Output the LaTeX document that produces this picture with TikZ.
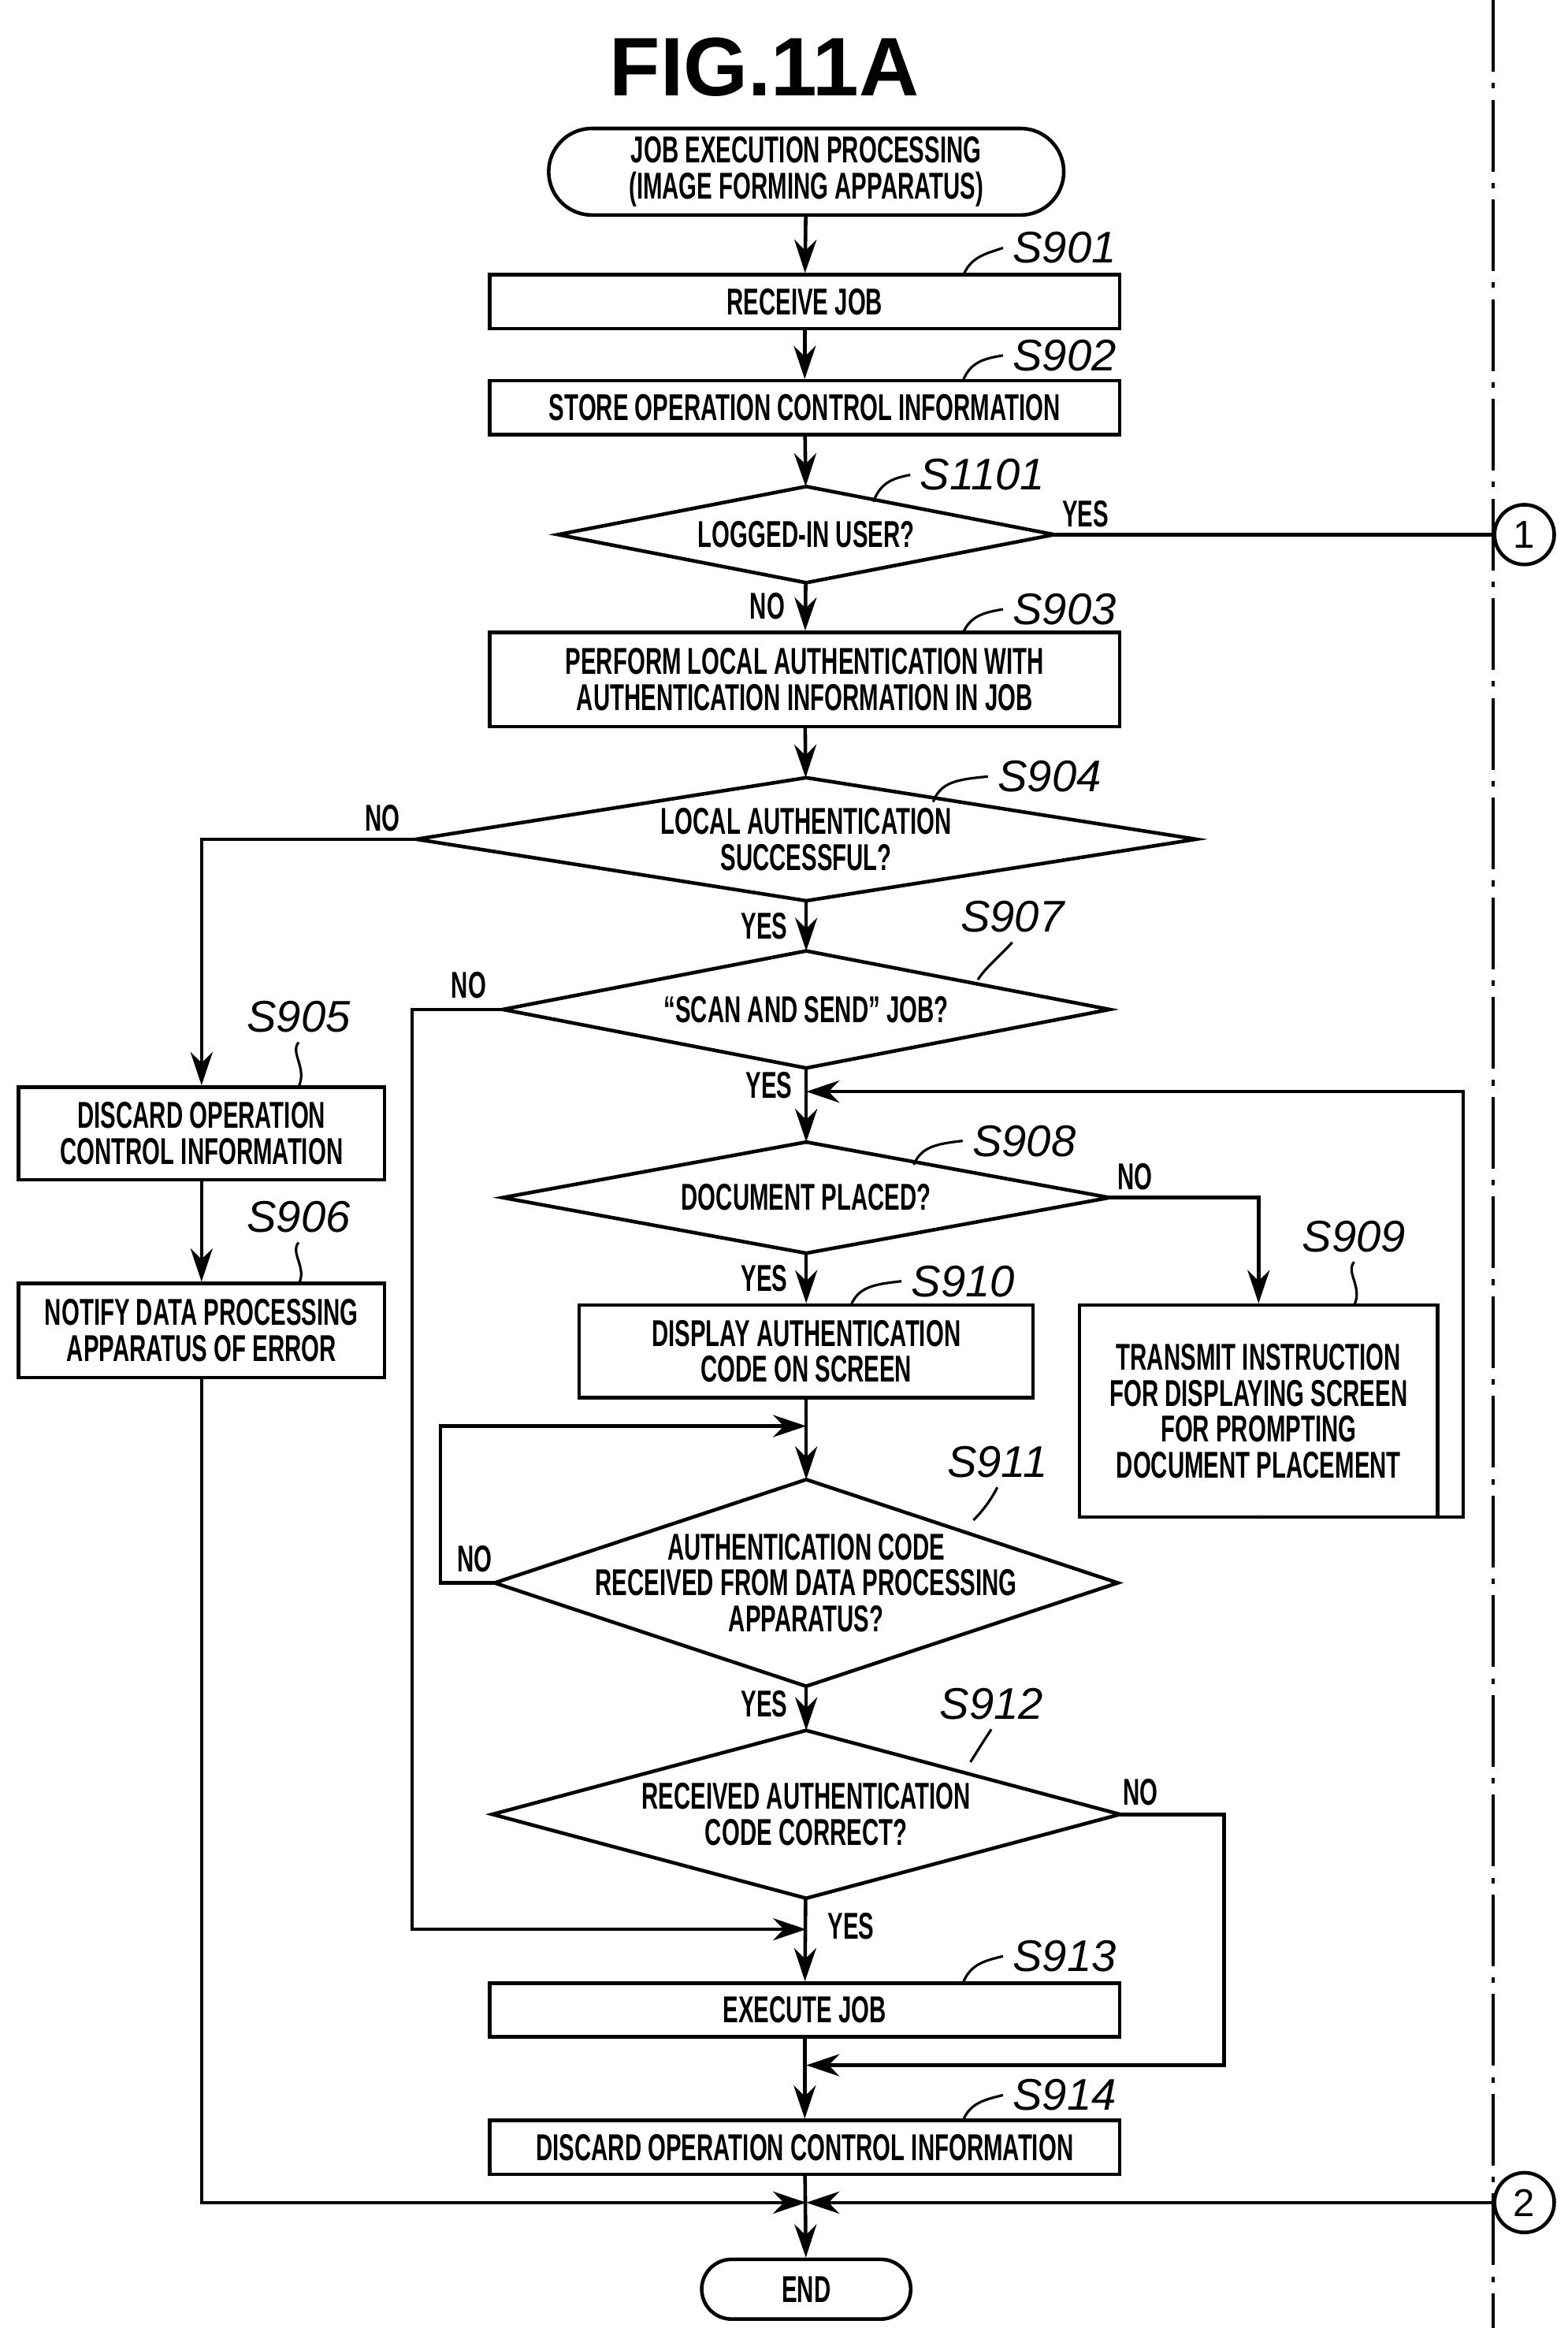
\documentclass[tikz,border=0pt]{standalone}
\usepackage{fontspec}
\setmainfont{Liberation Sans}[FakeStretch=0.62]
\newfontfamily\titlefont{Liberation Sans}
\usetikzlibrary{shapes.geometric,shapes.misc,arrows.meta,positioning}
\newcommand\px{0.01895cm}
\tikzset{
  base/.style={draw, line width=1.3pt, align=center, inner sep=0pt,
    font=\bfseries\fontsize{13.5}{13}\selectfont},
  box/.style={base, rectangle, minimum width=422*\px, minimum height=36*\px},
  term/.style={base, rounded rectangle, minimum height=58*\px},
  dec/.style={base, rectangle, draw=none},
  conn/.style={base, circle, minimum size=40*\px, font=\titlefont\fontsize{14}{14}\selectfont},
  stepno/.style={font=\titlefont\itshape\fontsize{16}{16}\selectfont},
  lbl/.style={font=\bfseries\fontsize{13.5}{13}\selectfont},
  line/.style={line width=1.3pt},
  arr/.style={line, -{Stealth[length=12pt,width=8pt]}},
  lead/.style={line width=0.9pt},
}
\begin{document}
\begin{tikzpicture}[x=\px, y=-\px]
\useasboundingbox (0,0) rectangle (1050,1559);
\node[font=\titlefont\bfseries\fontsize{30}{30}\selectfont] (title) at (512,45) {FIG.11A};
\draw[line width=1pt, dash pattern=on 26pt off 4pt on 2pt off 4pt] (1000,0) -- (1000,1559);

% main column
\node[term, minimum width=345*\px] (start) at (540,115) {JOB EXECUTION PROCESSING\\(IMAGE FORMING APPARATUS)};
\node[box] (s901) at (539,202) {RECEIVE JOB};
\node[box] (s902) at (539,273) {STORE OPERATION CONTROL INFORMATION};
\node[dec, minimum width=330*\px, minimum height=62*\px] (s1101) at (540,358) {LOGGED-IN USER?};
\node[box, minimum height=63*\px] (s903) at (539,455) {PERFORM LOCAL AUTHENTICATION WITH\\AUTHENTICATION INFORMATION IN JOB};
\node[dec, minimum width=520*\px, minimum height=80*\px] (s904) at (540,562) {LOCAL AUTHENTICATION\\SUCCESSFUL?};
\node[dec, minimum width=404*\px, minimum height=76*\px] (s907) at (540,676) {``SCAN AND SEND'' JOB?};
\node[dec, minimum width=404*\px, minimum height=72*\px] (s908) at (540,802) {DOCUMENT PLACED?};
\node[box, minimum width=304*\px, minimum height=62*\px] (s910) at (540,905) {DISPLAY AUTHENTICATION\\CODE ON SCREEN};
\node[dec, minimum width=415*\px, minimum height=136*\px] (s911) at (540,1060) {AUTHENTICATION CODE\\RECEIVED FROM DATA PROCESSING\\APPARATUS?};
\node[dec, minimum width=418*\px, minimum height=110*\px] (s912) at (540,1215) {RECEIVED AUTHENTICATION\\CODE CORRECT?};
\node[box] (s913) at (539,1346) {EXECUTE JOB};
\node[box] (s914) at (539,1438) {DISCARD OPERATION CONTROL INFORMATION};
\node[term, minimum width=140*\px, minimum height=40*\px] (end) at (540,1533) {END};
\foreach \n in {s1101,s904,s907,s908,s911,s912}
  \draw[line] (\n.north) -- (\n.east) -- (\n.south) -- (\n.west) -- cycle;

% side boxes
\node[box, minimum width=245*\px, minimum height=62*\px] (s905) at (135,759) {DISCARD OPERATION\\CONTROL INFORMATION};
\node[box, minimum width=245*\px, minimum height=63*\px] (s906) at (135,891) {NOTIFY DATA PROCESSING\\APPARATUS OF ERROR};
\node[box, minimum width=240*\px, minimum height=142*\px] (s909) at (843,945) {TRANSMIT INSTRUCTION\\FOR DISPLAYING SCREEN\\FOR PROMPTING\\DOCUMENT PLACEMENT};
\node[conn] (c1) at (1021,358) {1};
\node[conn] (c2) at (1021,1475) {2};

% merge points
\coordinate (m1) at (540,731);
\coordinate (m2) at (540,955);
\coordinate (m3) at (540,1383);
\coordinate (m4) at (540,1475);
\coordinate (m5) at (540,1292);

% connectors
\draw[arr] (start) -- (s901);
\draw[arr] (s901) -- (s902);
\draw[arr] (s902) -- (s1101);
\draw[arr] (s1101) -- (s903);
\draw[arr] (s903) -- (s904);
\draw[arr] (s904) -- (s907);
\draw[arr] (s907) -- (s908);
\draw[arr] (s908) -- (s910);
\draw[arr] (s910) -- (s911);
\draw[arr] (s911) -- (s912);
\draw[arr] (s912) -- (s913);
\draw[arr] (s913) -- (s914);
\draw[arr] (s914) -- (end);
\draw[arr] (s905) -- (s906);
\draw[line] (s1101.east) -- (c1);
\draw[arr] (s904.west) -| (s905.north);
\draw[arr] (s907.west) -- (276,676) |- (m5);
\draw[arr] (s908.east) -| (s909.north);
\draw[arr] (s909.south) -- (843,1016) -- (980,1016) |- (m1);
\draw[arr] (s911.west) -- (295,1060) |- (m2);
\draw[arr] (s912.east) -- (820,1215) |- (m3);
\draw[arr] (s906.south) |- (m4);
\draw[arr] (c2) -- (m4);

% branch labels
\node[lbl] (y1101) at (727,344) {YES};
\node[lbl] (n1101) at (514,406) {NO};
\node[lbl] (n904) at (256,548) {NO};
\node[lbl] (y904) at (512,620) {YES};
\node[lbl] (n907) at (314,660) {NO};
\node[lbl] (y907) at (515,727) {YES};
\node[lbl] (n908) at (760,788) {NO};
\node[lbl] (y908) at (512,856) {YES};
\node[lbl] (n911) at (318,1044) {NO};
\node[lbl] (y911) at (512,1141) {YES};
\node[lbl] (n912) at (764,1200) {NO};
\node[lbl] (y912) at (570,1290) {YES};

% step labels
\node[stepno] (l901) at (713,166) {S901};
\node[stepno] (l902) at (713,238) {S902};
\node[stepno] (l1101) at (658,318) {S1101};
\node[stepno] (l903) at (713,408) {S903};
\node[stepno] (l904) at (703,520) {S904};
\node[stepno] (l907) at (678,614) {S907};
\node[stepno] (l905) at (200,681) {S905};
\node[stepno] (l906) at (200,815) {S906};
\node[stepno] (l908) at (686,764) {S908};
\node[stepno] (l909) at (907,828) {S909};
\node[stepno] (l910) at (645,858) {S910};
\node[stepno] (l911) at (668,979) {S911};
\node[stepno] (l912) at (664,1141) {S912};
\node[stepno] (l913) at (713,1310) {S913};
\node[stepno] (l914) at (713,1403) {S914};

% leaders
\draw[lead] (645,185) .. controls (650,172) and (660,170) .. (l901.west);
\draw[lead] (645,255) .. controls (650,242) and (660,240) .. (l902.west);
\draw[lead] (585,336) .. controls (590,322) and (600,320) .. (l1101.west);
\draw[lead] (645,424) .. controls (650,412) and (660,410) .. (l903.west);
\draw[lead] (625,537) .. controls (630,524) and (640,522) .. (l904.west);
\draw[lead] (l907.south) .. controls (670,640) and (660,648) .. (655,656);
\draw[lead] (l905.south) .. controls (194,705) and (206,715) .. (200,728);
\draw[lead] (l906.south) .. controls (194,839) and (206,849) .. (200,860);
\draw[lead] (612,780) .. controls (617,768) and (627,766) .. (l908.west);
\draw[lead] (l909.south) .. controls (901,852) and (913,862) .. (907,874);
\draw[lead] (570,874) .. controls (575,862) and (585,860) .. (l910.west);
\draw[lead] (l911.south) .. controls (665,1002) and (660,1010) .. (652,1018);
\draw[lead] (l912.south) .. controls (660,1164) and (655,1172) .. (650,1180);
\draw[lead] (645,1328) .. controls (650,1315) and (660,1313) .. (l913.west);
\draw[lead] (645,1420) .. controls (650,1408) and (660,1406) .. (l914.west);
\end{tikzpicture}
\end{document}
